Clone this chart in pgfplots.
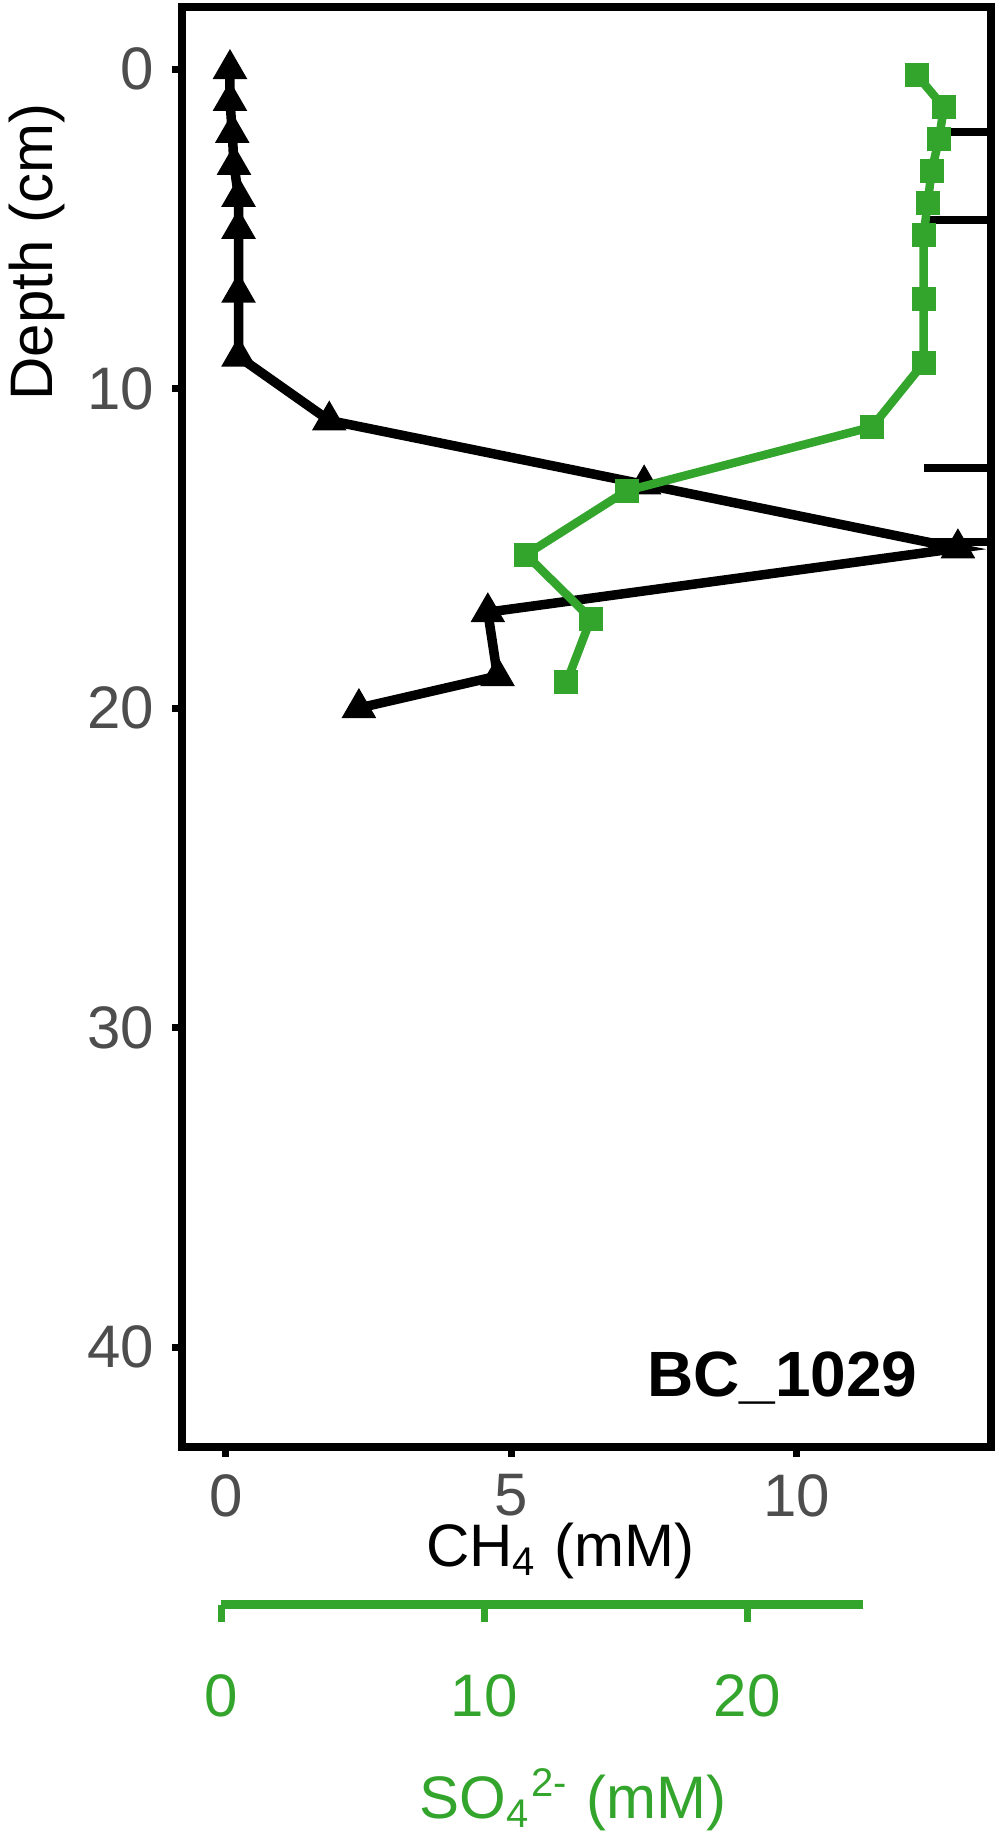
\documentclass[border=0pt]{standalone}
\usepackage{fontspec}
\setmainfont{Liberation Sans}
\usepackage{pgfplots}
\pgfplotsset{compat=1.18}
\definecolor{sogreen}{RGB}{51,165,44}
\definecolor{tickgray}{RGB}{77,77,77}
\begin{document}
\begin{tikzpicture}
\useasboundingbox (0,0) rectangle (199.6pt,-367.2pt);
% main CH4 axis
\begin{axis}[
  at={(36.4pt,-289.4pt)}, anchor=south west,
  scale only axis, width=161.8pt, height=288pt,
  xmin=-0.771, xmax=13.41, ymin=-1.94, ymax=43.13, y dir=reverse,
  xtick={0,5,10}, ytick={0,10,20,30,40},
  xtick pos=bottom, ytick pos=left,
  tick align=outside, major tick length=2pt,
  tick style={line width=1.4pt, black},
  axis line style={line width=1.5pt},
  ticklabel style={font=\fontsize{12}{14}\selectfont, text=tickgray},
  /pgf/number format/assume math mode=true,
]
\addplot[black, line width=1.6pt, forget plot] coordinates {(12.35,1.97) (13.6,1.97)};
\addplot[black, line width=1.6pt, forget plot] coordinates {(12.23,4.73) (13.6,4.73)};
\addplot[black, line width=1.6pt, forget plot] coordinates {(12.23,12.49) (13.6,12.49)};
\addplot[black, line width=1.6pt, forget plot] coordinates {(12.23,14.80) (13.6,14.80)};
\addplot[black, line width=1.9pt, mark=triangle*, mark size=3.5pt, mark options={solid, line width=0.5pt}] coordinates {
(0.07,0) (0.07,1) (0.11,2) (0.14,3) (0.22,4) (0.22,5) (0.22,7) (0.22,9)
(1.81,11) (7.33,13) (12.83,15) (4.59,17) (4.76,19) (2.33,20)};
\node[anchor=base east, font=\bfseries\fontsize{12.8}{14}\selectfont] at (axis cs:12.43,41.55) {BC\_1029};
\end{axis}
% SO4 overlay
\begin{axis}[
  at={(36.4pt,-289.4pt)}, anchor=south west,
  scale only axis, width=161.8pt, height=288pt,
  xmin=-1.498, xmax=29.26, ymin=-1.94, ymax=43.13, y dir=reverse,
  hide axis,
]
\addplot[sogreen, line width=1.7pt, mark=square*, mark size=2.2pt, mark options={solid, line width=0.4pt}] coordinates {
(26.45,0.2) (27.47,1.2) (27.28,2.2) (27.0,3.2) (26.85,4.2) (26.7,5.2) (26.7,7.2) (26.7,9.2)
(24.74,11.2) (15.41,13.2) (11.58,15.2) (14.05,17.2) (13.12,19.2)};
\end{axis}
% SO4 scale axis
\begin{axis}[
  at={(44.28pt,-320.9pt)}, anchor=south west,
  scale only axis, width=128.3pt, height=1pt,
  xmin=0, xmax=24.4, ymin=0, ymax=1,
  axis x line=bottom, axis y line=none,
  x axis line style={-},
  axis line style={-, sogreen, line width=1.9pt},
  xtick={0,10,20}, tick align=outside, major tick length=3.5pt,
  tick style={sogreen, line width=1.4pt},
  ticklabel style={font=\fontsize{12}{14}\selectfont, text=sogreen},
  xticklabel style={yshift=-7pt},
  /pgf/number format/assume math mode=true,
]
\end{axis}
\node[rotate=90, font=\fontsize{12}{14}\selectfont] at (7.4pt,-50.4pt) {Depth (cm)};
\node[anchor=base, font=\fontsize{12}{14}\selectfont] at (112pt,-313.2pt) {CH\textsubscript{4} (mM)};
\node[anchor=base, font=\fontsize{12}{14}\selectfont, text=sogreen] at (114.6pt,-363.6pt) {SO\textsubscript{4}\textsuperscript{2-} (mM)};
\end{tikzpicture}
\end{document}
